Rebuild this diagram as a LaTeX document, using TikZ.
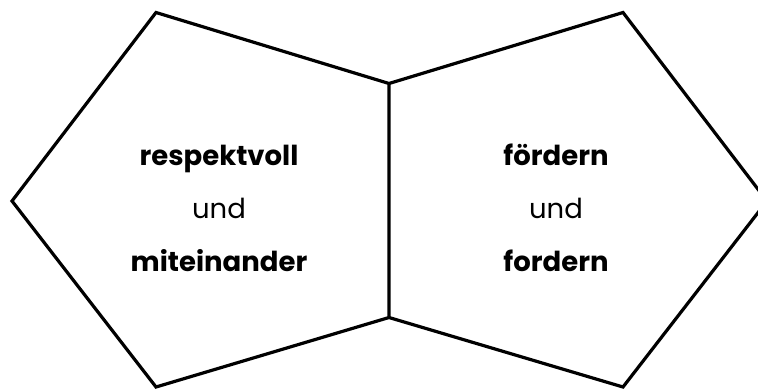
\documentclass[tikz,border=0pt]{standalone}
\usepackage{fontspec}
\setmainfont{Poppins}
\begin{document}
\begin{tikzpicture}[x=1pt,y=-1pt,
  edge/.style={draw=black,line width=3.2pt,line join=miter},
  label/.style={align=center,font=\fontsize{27.5}{53}\selectfont,inner sep=0pt}]
\useasboundingbox (0,0) rectangle (758,389);
\clip (0,0) rectangle (758,389);
\coordinate (LT) at (156,12.5);
\coordinate (MT) at (389,83.5);
\coordinate (MB) at (389,317.5);
\coordinate (LB) at (156,387);
\coordinate (LL) at (12,201);
\coordinate (RT) at (623,12.5);
\coordinate (RR) at (767,201);
\coordinate (RB) at (623,387);
\draw[edge] (MT) -- (LT) -- (LL) -- (LB) -- (MB) -- cycle;
\draw[edge] (MT) -- (RT) -- (RR) -- (RB) -- (MB);
\node[label] (left) at (219,208) {\textbf{respektvoll}\\und\\\textbf{miteinander}};
\node[label] (right) at (556,208) {\textbf{fördern}\\und\\\textbf{fordern}};
\end{tikzpicture}
\end{document}
